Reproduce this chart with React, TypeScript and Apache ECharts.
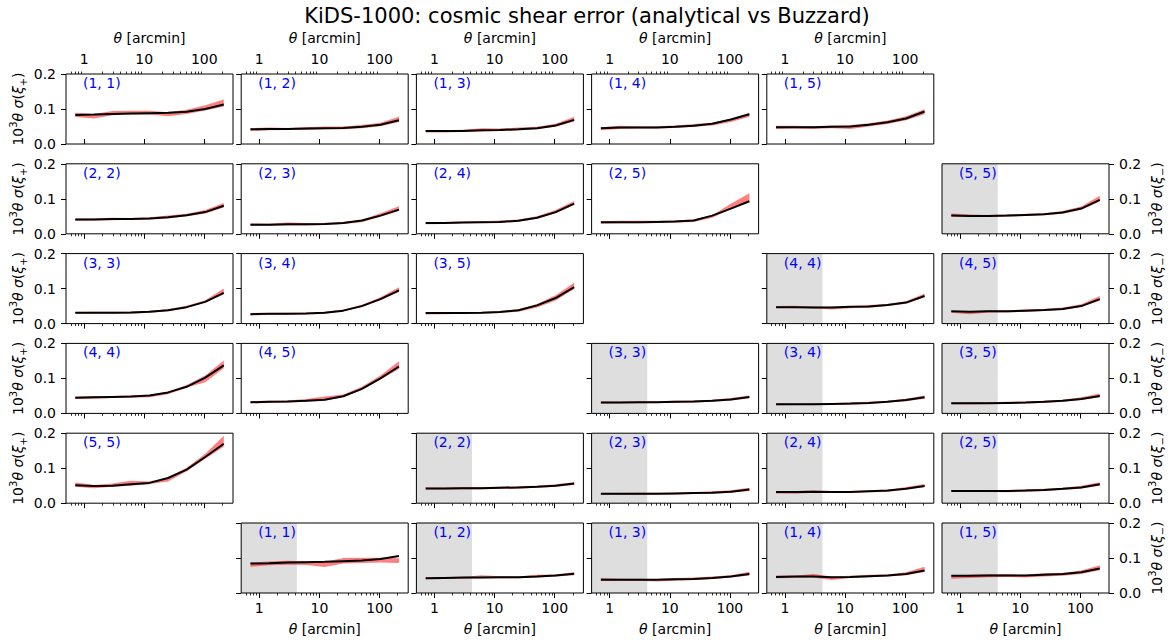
import React, { useEffect, useRef } from 'react';
import * as echarts from 'echarts';

// ---------------- data ----------------
const THETA = [0.713, 1.452, 2.957, 6.02, 12.26, 24.96, 50.8, 103.5, 210.7];
const MAJOR_TICKS = [1, 10, 100];
const MINOR_TICKS = [0.6, 0.7, 0.8, 0.9, 2, 3, 4, 5, 6, 7, 8, 9, 20, 30, 40, 50, 60, 70, 80, 90, 200];
const SCALE_CUT = 4.22; // small-scale cut of xi_minus (grey)
const TITLE = 'KiDS-1000: cosmic shear error (analytical vs Buzzard)';

// xi_plus panels: analytical (ana) and Buzzard band (lo/hi)
const XIP_11_ANA = [0.083, 0.084, 0.086, 0.087, 0.088, 0.089, 0.092, 0.100, 0.113];
const XIP_11_LO = [0.077, 0.073, 0.082, 0.084, 0.084, 0.079, 0.086, 0.096, 0.107];
const XIP_11_HI = [0.089, 0.086, 0.094, 0.095, 0.095, 0.091, 0.098, 0.111, 0.127];
const XIP_12_ANA = [0.042, 0.043, 0.043, 0.044, 0.045, 0.046, 0.049, 0.055, 0.068];
const XIP_12_LO = [0.037, 0.039, 0.040, 0.040, 0.042, 0.042, 0.045, 0.051, 0.063];
const XIP_12_HI = [0.045, 0.047, 0.046, 0.048, 0.050, 0.050, 0.054, 0.061, 0.078];
const XIP_13_ANA = [0.037, 0.037, 0.037, 0.039, 0.040, 0.042, 0.045, 0.053, 0.069];
const XIP_13_LO = [0.033, 0.033, 0.034, 0.036, 0.037, 0.039, 0.042, 0.049, 0.064];
const XIP_13_HI = [0.040, 0.039, 0.041, 0.045, 0.044, 0.047, 0.049, 0.058, 0.078];
const XIP_14_ANA = [0.045, 0.047, 0.047, 0.047, 0.049, 0.052, 0.058, 0.070, 0.085];
const XIP_14_LO = [0.039, 0.043, 0.044, 0.044, 0.046, 0.049, 0.053, 0.063, 0.078];
const XIP_14_HI = [0.048, 0.052, 0.051, 0.051, 0.053, 0.057, 0.061, 0.072, 0.089];
const XIP_15_ANA = [0.048, 0.048, 0.048, 0.049, 0.050, 0.055, 0.062, 0.073, 0.093];
const XIP_15_LO = [0.043, 0.044, 0.043, 0.045, 0.043, 0.050, 0.057, 0.068, 0.085];
const XIP_15_HI = [0.052, 0.052, 0.051, 0.053, 0.054, 0.059, 0.067, 0.079, 0.099];
const XIP_22_ANA = [0.041, 0.041, 0.042, 0.042, 0.044, 0.047, 0.053, 0.062, 0.080];
const XIP_22_LO = [0.037, 0.038, 0.039, 0.040, 0.041, 0.044, 0.050, 0.058, 0.075];
const XIP_22_HI = [0.044, 0.044, 0.046, 0.045, 0.047, 0.052, 0.057, 0.068, 0.088];
const XIP_23_ANA = [0.026, 0.026, 0.027, 0.027, 0.028, 0.031, 0.038, 0.052, 0.069];
const XIP_23_LO = [0.023, 0.023, 0.024, 0.024, 0.025, 0.028, 0.033, 0.049, 0.065];
const XIP_23_HI = [0.030, 0.029, 0.032, 0.031, 0.031, 0.034, 0.040, 0.059, 0.079];
const XIP_24_ANA = [0.031, 0.031, 0.032, 0.033, 0.034, 0.037, 0.046, 0.062, 0.086];
const XIP_24_LO = [0.027, 0.028, 0.030, 0.031, 0.032, 0.035, 0.043, 0.059, 0.082];
const XIP_24_HI = [0.033, 0.034, 0.035, 0.036, 0.038, 0.041, 0.050, 0.068, 0.094];
const XIP_25_ANA = [0.033, 0.033, 0.033, 0.034, 0.035, 0.038, 0.052, 0.072, 0.093];
const XIP_25_LO = [0.029, 0.030, 0.030, 0.031, 0.032, 0.034, 0.046, 0.071, 0.092];
const XIP_25_HI = [0.036, 0.037, 0.037, 0.037, 0.038, 0.041, 0.053, 0.086, 0.116];
const XIP_33_ANA = [0.031, 0.031, 0.031, 0.032, 0.034, 0.038, 0.047, 0.062, 0.088];
const XIP_33_LO = [0.028, 0.029, 0.029, 0.028, 0.031, 0.035, 0.045, 0.060, 0.084];
const XIP_33_HI = [0.033, 0.034, 0.034, 0.034, 0.037, 0.041, 0.051, 0.067, 0.100];
const XIP_34_ANA = [0.027, 0.028, 0.028, 0.029, 0.031, 0.037, 0.050, 0.070, 0.095];
const XIP_34_LO = [0.023, 0.025, 0.026, 0.027, 0.029, 0.035, 0.048, 0.067, 0.090];
const XIP_34_HI = [0.030, 0.030, 0.031, 0.032, 0.034, 0.040, 0.054, 0.075, 0.104];
const XIP_35_ANA = [0.030, 0.030, 0.030, 0.031, 0.033, 0.038, 0.052, 0.073, 0.104];
const XIP_35_LO = [0.026, 0.027, 0.028, 0.028, 0.030, 0.034, 0.046, 0.066, 0.099];
const XIP_35_HI = [0.033, 0.032, 0.032, 0.033, 0.036, 0.041, 0.056, 0.081, 0.117];
const XIP_44_ANA = [0.045, 0.046, 0.047, 0.048, 0.051, 0.060, 0.076, 0.102, 0.137];
const XIP_44_LO = [0.041, 0.042, 0.044, 0.045, 0.046, 0.055, 0.074, 0.089, 0.129];
const XIP_44_HI = [0.048, 0.049, 0.050, 0.051, 0.053, 0.062, 0.081, 0.108, 0.151];
const XIP_45_ANA = [0.032, 0.033, 0.034, 0.036, 0.039, 0.049, 0.070, 0.100, 0.134];
const XIP_45_LO = [0.029, 0.030, 0.031, 0.033, 0.037, 0.047, 0.067, 0.097, 0.127];
const XIP_45_HI = [0.035, 0.036, 0.037, 0.041, 0.048, 0.054, 0.076, 0.108, 0.149];
const XIP_55_ANA = [0.051, 0.049, 0.050, 0.054, 0.058, 0.072, 0.096, 0.132, 0.170];
const XIP_55_LO = [0.047, 0.043, 0.047, 0.050, 0.055, 0.062, 0.091, 0.127, 0.161];
const XIP_55_HI = [0.059, 0.052, 0.056, 0.064, 0.062, 0.074, 0.101, 0.141, 0.193];

// xi_minus panels
const XIM_11_ANA = [0.084, 0.085, 0.087, 0.088, 0.089, 0.091, 0.093, 0.097, 0.106];
const XIM_11_LO = [0.075, 0.079, 0.081, 0.080, 0.074, 0.084, 0.086, 0.087, 0.086];
const XIM_11_HI = [0.087, 0.090, 0.092, 0.091, 0.089, 0.100, 0.101, 0.101, 0.099];
const XIM_12_ANA = [0.042, 0.043, 0.044, 0.044, 0.045, 0.045, 0.047, 0.050, 0.055];
const XIM_12_LO = [0.039, 0.040, 0.041, 0.042, 0.042, 0.042, 0.044, 0.047, 0.051];
const XIM_12_HI = [0.045, 0.045, 0.046, 0.051, 0.048, 0.047, 0.052, 0.053, 0.059];
const XIM_13_ANA = [0.038, 0.038, 0.038, 0.038, 0.039, 0.040, 0.043, 0.047, 0.054];
const XIM_13_LO = [0.035, 0.035, 0.035, 0.033, 0.035, 0.037, 0.040, 0.044, 0.050];
const XIM_13_HI = [0.043, 0.041, 0.041, 0.040, 0.043, 0.044, 0.047, 0.051, 0.061];
const XIM_14_ANA = [0.046, 0.047, 0.047, 0.045, 0.046, 0.048, 0.050, 0.054, 0.064];
const XIM_14_LO = [0.042, 0.043, 0.044, 0.037, 0.043, 0.045, 0.047, 0.051, 0.060];
const XIM_14_HI = [0.050, 0.049, 0.054, 0.047, 0.049, 0.052, 0.053, 0.059, 0.075];
const XIM_15_ANA = [0.049, 0.049, 0.050, 0.050, 0.050, 0.052, 0.054, 0.059, 0.070];
const XIM_15_LO = [0.041, 0.043, 0.045, 0.046, 0.044, 0.047, 0.049, 0.054, 0.065];
const XIM_15_HI = [0.050, 0.052, 0.054, 0.054, 0.052, 0.057, 0.057, 0.064, 0.079];
const XIM_22_ANA = [0.042, 0.042, 0.043, 0.043, 0.044, 0.045, 0.047, 0.050, 0.056];
const XIM_22_LO = [0.039, 0.039, 0.040, 0.040, 0.041, 0.042, 0.044, 0.047, 0.052];
const XIM_22_HI = [0.045, 0.044, 0.046, 0.046, 0.047, 0.049, 0.050, 0.054, 0.060];
const XIM_23_ANA = [0.027, 0.027, 0.027, 0.027, 0.028, 0.029, 0.030, 0.033, 0.039];
const XIM_23_LO = [0.024, 0.024, 0.024, 0.025, 0.025, 0.026, 0.028, 0.030, 0.035];
const XIM_23_HI = [0.029, 0.029, 0.030, 0.030, 0.030, 0.032, 0.034, 0.037, 0.044];
const XIM_24_ANA = [0.032, 0.032, 0.033, 0.032, 0.032, 0.034, 0.036, 0.041, 0.049];
const XIM_24_LO = [0.028, 0.027, 0.030, 0.029, 0.030, 0.031, 0.032, 0.039, 0.046];
const XIM_24_HI = [0.034, 0.034, 0.036, 0.035, 0.035, 0.037, 0.038, 0.046, 0.055];
const XIM_25_ANA = [0.035, 0.035, 0.035, 0.035, 0.036, 0.038, 0.041, 0.045, 0.054];
const XIM_25_LO = [0.032, 0.032, 0.032, 0.031, 0.033, 0.035, 0.038, 0.042, 0.050];
const XIM_25_HI = [0.037, 0.037, 0.038, 0.037, 0.040, 0.041, 0.044, 0.050, 0.060];
const XIM_33_ANA = [0.031, 0.031, 0.032, 0.032, 0.033, 0.034, 0.036, 0.040, 0.047];
const XIM_33_LO = [0.028, 0.029, 0.029, 0.030, 0.030, 0.031, 0.033, 0.037, 0.043];
const XIM_33_HI = [0.034, 0.033, 0.034, 0.035, 0.036, 0.037, 0.039, 0.044, 0.051];
const XIM_34_ANA = [0.026, 0.026, 0.026, 0.027, 0.028, 0.030, 0.033, 0.038, 0.046];
const XIM_34_LO = [0.023, 0.024, 0.024, 0.024, 0.025, 0.027, 0.031, 0.035, 0.042];
const XIM_34_HI = [0.028, 0.028, 0.028, 0.029, 0.031, 0.033, 0.036, 0.042, 0.051];
const XIM_35_ANA = [0.029, 0.029, 0.029, 0.030, 0.031, 0.033, 0.036, 0.041, 0.050];
const XIM_35_LO = [0.026, 0.026, 0.027, 0.027, 0.028, 0.030, 0.033, 0.038, 0.046];
const XIM_35_HI = [0.031, 0.032, 0.032, 0.033, 0.034, 0.036, 0.039, 0.046, 0.057];
const XIM_44_ANA = [0.047, 0.047, 0.046, 0.046, 0.048, 0.049, 0.053, 0.060, 0.079];
const XIM_44_LO = [0.045, 0.045, 0.044, 0.040, 0.044, 0.045, 0.050, 0.057, 0.075];
const XIM_44_HI = [0.050, 0.051, 0.049, 0.048, 0.050, 0.053, 0.056, 0.064, 0.086];
const XIM_45_ANA = [0.035, 0.034, 0.035, 0.035, 0.037, 0.039, 0.042, 0.050, 0.070];
const XIM_45_LO = [0.031, 0.027, 0.032, 0.032, 0.034, 0.036, 0.039, 0.048, 0.065];
const XIM_45_HI = [0.036, 0.035, 0.038, 0.037, 0.041, 0.042, 0.046, 0.055, 0.079];
const XIM_55_ANA = [0.052, 0.051, 0.051, 0.052, 0.054, 0.056, 0.061, 0.072, 0.097];
const XIM_55_LO = [0.049, 0.048, 0.048, 0.049, 0.051, 0.053, 0.057, 0.069, 0.092];
const XIM_55_HI = [0.058, 0.055, 0.054, 0.055, 0.057, 0.059, 0.065, 0.078, 0.109];

type Panel = { row: number; col: number; kind: 'p' | 'm'; label: string; ana: number[]; lo: number[]; hi: number[] };

const PANELS: Panel[] = [
  { row: 0, col: 0, kind: 'p', label: '(1, 1)', ana: XIP_11_ANA, lo: XIP_11_LO, hi: XIP_11_HI },
  { row: 0, col: 1, kind: 'p', label: '(1, 2)', ana: XIP_12_ANA, lo: XIP_12_LO, hi: XIP_12_HI },
  { row: 0, col: 2, kind: 'p', label: '(1, 3)', ana: XIP_13_ANA, lo: XIP_13_LO, hi: XIP_13_HI },
  { row: 0, col: 3, kind: 'p', label: '(1, 4)', ana: XIP_14_ANA, lo: XIP_14_LO, hi: XIP_14_HI },
  { row: 0, col: 4, kind: 'p', label: '(1, 5)', ana: XIP_15_ANA, lo: XIP_15_LO, hi: XIP_15_HI },
  { row: 1, col: 0, kind: 'p', label: '(2, 2)', ana: XIP_22_ANA, lo: XIP_22_LO, hi: XIP_22_HI },
  { row: 1, col: 1, kind: 'p', label: '(2, 3)', ana: XIP_23_ANA, lo: XIP_23_LO, hi: XIP_23_HI },
  { row: 1, col: 2, kind: 'p', label: '(2, 4)', ana: XIP_24_ANA, lo: XIP_24_LO, hi: XIP_24_HI },
  { row: 1, col: 3, kind: 'p', label: '(2, 5)', ana: XIP_25_ANA, lo: XIP_25_LO, hi: XIP_25_HI },
  { row: 2, col: 0, kind: 'p', label: '(3, 3)', ana: XIP_33_ANA, lo: XIP_33_LO, hi: XIP_33_HI },
  { row: 2, col: 1, kind: 'p', label: '(3, 4)', ana: XIP_34_ANA, lo: XIP_34_LO, hi: XIP_34_HI },
  { row: 2, col: 2, kind: 'p', label: '(3, 5)', ana: XIP_35_ANA, lo: XIP_35_LO, hi: XIP_35_HI },
  { row: 3, col: 0, kind: 'p', label: '(4, 4)', ana: XIP_44_ANA, lo: XIP_44_LO, hi: XIP_44_HI },
  { row: 3, col: 1, kind: 'p', label: '(4, 5)', ana: XIP_45_ANA, lo: XIP_45_LO, hi: XIP_45_HI },
  { row: 4, col: 0, kind: 'p', label: '(5, 5)', ana: XIP_55_ANA, lo: XIP_55_LO, hi: XIP_55_HI },
  { row: 1, col: 5, kind: 'm', label: '(5, 5)', ana: XIM_55_ANA, lo: XIM_55_LO, hi: XIM_55_HI },
  { row: 2, col: 4, kind: 'm', label: '(4, 4)', ana: XIM_44_ANA, lo: XIM_44_LO, hi: XIM_44_HI },
  { row: 2, col: 5, kind: 'm', label: '(4, 5)', ana: XIM_45_ANA, lo: XIM_45_LO, hi: XIM_45_HI },
  { row: 3, col: 3, kind: 'm', label: '(3, 3)', ana: XIM_33_ANA, lo: XIM_33_LO, hi: XIM_33_HI },
  { row: 3, col: 4, kind: 'm', label: '(3, 4)', ana: XIM_34_ANA, lo: XIM_34_LO, hi: XIM_34_HI },
  { row: 3, col: 5, kind: 'm', label: '(3, 5)', ana: XIM_35_ANA, lo: XIM_35_LO, hi: XIM_35_HI },
  { row: 4, col: 2, kind: 'm', label: '(2, 2)', ana: XIM_22_ANA, lo: XIM_22_LO, hi: XIM_22_HI },
  { row: 4, col: 3, kind: 'm', label: '(2, 3)', ana: XIM_23_ANA, lo: XIM_23_LO, hi: XIM_23_HI },
  { row: 4, col: 4, kind: 'm', label: '(2, 4)', ana: XIM_24_ANA, lo: XIM_24_LO, hi: XIM_24_HI },
  { row: 4, col: 5, kind: 'm', label: '(2, 5)', ana: XIM_25_ANA, lo: XIM_25_LO, hi: XIM_25_HI },
  { row: 5, col: 1, kind: 'm', label: '(1, 1)', ana: XIM_11_ANA, lo: XIM_11_LO, hi: XIM_11_HI },
  { row: 5, col: 2, kind: 'm', label: '(1, 2)', ana: XIM_12_ANA, lo: XIM_12_LO, hi: XIM_12_HI },
  { row: 5, col: 3, kind: 'm', label: '(1, 3)', ana: XIM_13_ANA, lo: XIM_13_LO, hi: XIM_13_HI },
  { row: 5, col: 4, kind: 'm', label: '(1, 4)', ana: XIM_14_ANA, lo: XIM_14_LO, hi: XIM_14_HI },
  { row: 5, col: 5, kind: 'm', label: '(1, 5)', ana: XIM_15_ANA, lo: XIM_15_LO, hi: XIM_15_HI },
];

// ---------------- layout ----------------
const FONT = 'DejaVu Sans';
const COL0 = 66;
const COL_STEP = 175.2;
const ROW0 = 74;
const ROW_STEP = 89.8;
const PW = 167;
const PH = 70;

const yNameRich = {
  a: { fontSize: 14, fontFamily: FONT, color: '#000', lineHeight: 20 },
  g: { fontSize: 14, fontFamily: FONT, color: '#000', fontStyle: 'italic', lineHeight: 20 },
  s: { fontSize: 10, fontFamily: FONT, color: '#000', verticalAlign: 'top', lineHeight: 20 },
  b: { fontSize: 10, fontFamily: FONT, color: '#000', verticalAlign: 'bottom', lineHeight: 20 },
};
const xNameRich = {
  g: { fontSize: 14, fontFamily: FONT, color: '#000', fontStyle: 'italic', lineHeight: 16 },
};

function buildOption() {
  const grid: any[] = [];
  const xAxis: any[] = [];
  const yAxis: any[] = [];
  const series: any[] = [];
  const graphic: any[] = [];

  PANELS.forEach((p, k) => {
    const left = COL0 + COL_STEP * p.col;
    const top = ROW0 + ROW_STEP * p.row;
    grid.push({
      left, top, width: PW, height: PH, show: true, z: 10,
      backgroundColor: 'transparent', borderColor: '#000', borderWidth: 1,
    });
    const isTop = p.row === 0;
    const isBottom = p.row === 5;
    const pos = isTop ? 'top' : 'bottom';
    const showX = isTop || isBottom;
    xAxis.push({
      type: 'log', logBase: 10, gridIndex: k, min: 0.5, max: 300, position: pos,
      axisLine: { show: false }, splitLine: { show: false },
      axisTick: { show: true, inside: false, length: 5, customValues: MAJOR_TICKS, lineStyle: { color: '#000', width: 1 } },
      axisLabel: {
        show: showX, customValues: MAJOR_TICKS, margin: 8, fontSize: 14, color: '#000', fontFamily: FONT,
        formatter: (v: number) => String(v),
      },
      name: showX ? '{g|θ} [arcmin]' : '',
      nameLocation: 'middle', nameGap: 28,
      nameTextStyle: { fontSize: 14, color: '#000', fontFamily: FONT, lineHeight: 16, rich: xNameRich },
    });
    xAxis.push({
      type: 'log', logBase: 10, gridIndex: k, min: 0.5, max: 300, position: pos,
      axisLine: { show: false }, splitLine: { show: false },
      axisTick: { show: true, inside: false, length: 2.5, customValues: MINOR_TICKS, lineStyle: { color: '#000', width: 0.8 } },
      axisLabel: { show: false },
    });
    const right = p.kind === 'm' && p.col === 5;
    const showY = (p.kind === 'p' && p.col === 0) || right;
    yAxis.push({
      type: 'value', gridIndex: k, min: 0, max: 0.2, interval: 0.1, position: right ? 'right' : 'left',
      axisLine: { show: false }, splitLine: { show: false },
      axisTick: { show: true, inside: false, length: 5, lineStyle: { color: '#000', width: 1 } },
      axisLabel: {
        show: showY, margin: 10, fontSize: 14, color: '#000', fontFamily: FONT,
        formatter: (v: number) => v.toFixed(1),
      },
      name: showY
        ? (p.kind === 'p'
          ? '{a|10}{s|3}{g|θ σ}{a|(}{g|ξ}{b|+}{a|)}'
          : '{a|10}{s|3}{g|θ σ}{a|(}{g|ξ}{b|−}{a|)}')
        : '',
      nameLocation: 'middle', nameGap: 38, nameRotate: 90,
      nameTextStyle: { fontSize: 14, color: '#000', fontFamily: FONT, rich: yNameRich },
    });

    const xi = 2 * k;
    // Buzzard band (filled between lo and hi)
    series.push({
      type: 'custom', xAxisIndex: xi, yAxisIndex: k, silent: true,
      data: THETA.map((t, i) => [t, p.lo[i], p.hi[i]]),
      encode: { x: 0, y: [1, 2] },
      renderItem: (params: any, api: any) => {
        if (params.dataIndex !== 0) return null;
        const upper = THETA.map((t, i) => api.coord([t, p.hi[i]]));
        const lower = THETA.map((t, i) => api.coord([t, p.lo[i]])).reverse();
        return {
          type: 'polygon',
          shape: { points: upper.concat(lower) },
          style: { fill: 'rgba(255,0,0,0.5)', stroke: 'none' },
        };
      },
    });
    // analytical line (+ grey small-scale region for xi_minus)
    series.push({
      type: 'line', xAxisIndex: xi, yAxisIndex: k, symbol: 'none', silent: true,
      data: THETA.map((t, i) => [t, p.ana[i]]),
      lineStyle: { color: '#000', width: 2 },
      markArea: p.kind === 'm'
        ? { silent: true, itemStyle: { color: '#dedede' }, data: [[{ xAxis: 0.5 }, { xAxis: SCALE_CUT }]] }
        : undefined,
    });

    graphic.push({
      type: 'text', x: left + 17, y: top + 9, z: 20, silent: true,
      style: { text: p.label, fill: '#0000ff', fontSize: 14, fontFamily: FONT, verticalAlign: 'middle', align: 'left' },
    });
  });

  return {
    animation: false,
    textStyle: { fontFamily: FONT },
    title: {
      text: TITLE, left: 'center', top: 0,
      textStyle: { fontSize: 21, fontWeight: 'normal', color: '#000', fontFamily: FONT },
    },
    grid, xAxis, yAxis, series, graphic,
  };
}

export default function App() {
  const ref = useRef<HTMLDivElement>(null);
  useEffect(() => {
    if (!ref.current) return;
    const chart = echarts.init(ref.current, undefined, { renderer: 'svg' });
    chart.setOption(buildOption() as any);
    return () => chart.dispose();
  }, []);
  return (
    <div
      ref={ref}
      style={{ position: 'absolute', left: 0, top: 0, width: 1174, height: 640, background: '#fff' }}
    />
  );
}
